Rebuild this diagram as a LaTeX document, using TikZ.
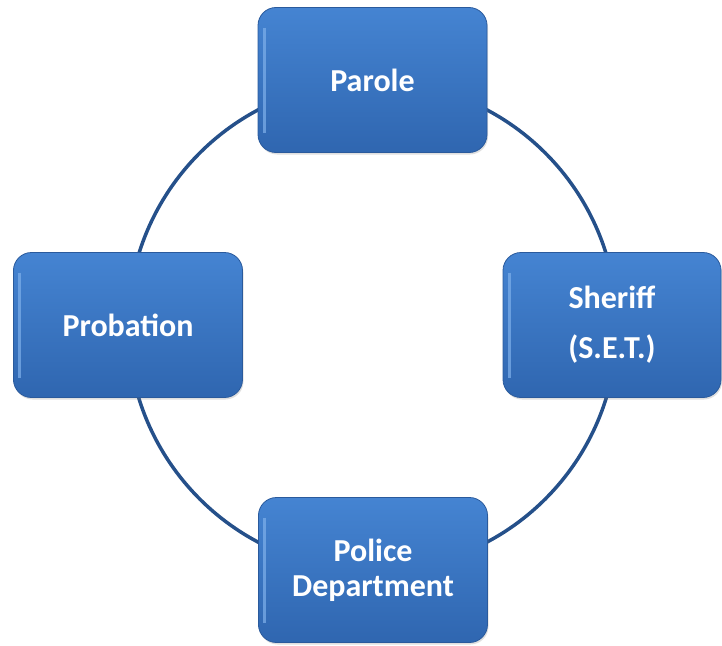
\documentclass[tikz,border=0pt]{standalone}
\usepackage{fontspec}
\setmainfont{Carlito}
\usetikzlibrary{shadows}
\definecolor{ringblue}{HTML}{25508A}
\definecolor{boxtop}{HTML}{4584D2}
\definecolor{boxbot}{HTML}{2F66B0}
\definecolor{boxedge}{HTML}{2A5A9C}
\definecolor{boxshine}{HTML}{7FB0EA}

\begin{document}
\begin{tikzpicture}[x=1pt, y=-1pt,
	agency/.style={draw=boxedge, line width=0.8pt, rounded corners=18pt,
		top color=boxtop, bottom color=boxbot,
		minimum width=229pt, minimum height=145pt, align=center, text=white,
		font=\bfseries\fontsize{32}{35}\selectfont,
		path picture={\draw [boxshine, line width=3pt, opacity=0.7]
			([xshift=6pt, yshift=-20pt]path picture bounding box.north west)
			-- ([xshift=6pt, yshift=20pt]path picture bounding box.south west);},
		drop shadow={opacity=0.25, shadow xshift=1pt, shadow yshift=-2pt}}]
	\useasboundingbox (0,0) rectangle (722,645);
	\coordinate (C) at (372.5,326);
	\draw [ringblue, line width=3.5pt] (C) circle [radius=244.5pt];

	\node [agency] (Par) at (372.5,80) {Parole};
	\node [agency] (Pro) at (128,325) {Probation};
	\node [agency, minimum width=218pt] (She) at (612,325) {Sheriff\\[15pt](S.E.T.)};
	\node [agency] (Pol) at (373,570) {Police\\Department};
\end{tikzpicture}
\end{document}
